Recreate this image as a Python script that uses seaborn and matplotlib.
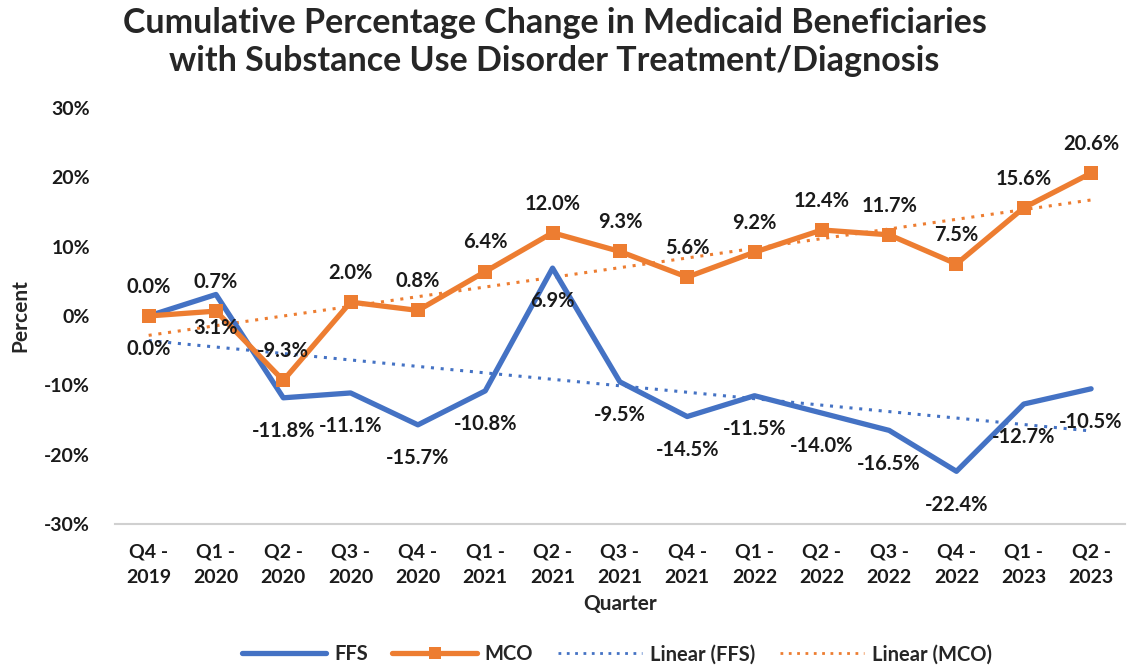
import numpy as np
import pandas as pd
import seaborn as sns
import matplotlib.pyplot as plt

# Chart data
quarters = ["Q4 -\n2019", "Q1 -\n2020", "Q2 -\n2020", "Q3 -\n2020", "Q4 -\n2020",
            "Q1 -\n2021", "Q2 -\n2021", "Q3 -\n2021", "Q4 -\n2021", "Q1 -\n2022",
            "Q2 -\n2022", "Q3 -\n2022", "Q4 -\n2022", "Q1 -\n2023", "Q2 -\n2023"]
ffs = [0.0, 3.1, -11.8, -11.1, -15.7, -10.8, 6.9, -9.5, -14.5, -11.5, -14.0, -16.5, -22.4, -12.7, -10.5]
mco = [0.0, 0.7, -9.3, 2.0, 0.8, 6.4, 12.0, 9.3, 5.6, 9.2, 12.4, 11.7, 7.5, 15.6, 20.6]

blue = "#4472C4"
orange = "#ED7D31"

sns.set_style("white")
plt.rcParams["font.family"] = ["Lato", "DejaVu Sans"]
plt.rcParams["font.weight"] = "bold"

df = pd.DataFrame({"idx": np.arange(len(quarters)), "FFS": ffs, "MCO": mco})

fig = plt.figure(figsize=(11.32, 6.69), dpi=100)
ax = fig.add_axes([0.1016, 0.2167, 0.892, 0.622])

# trend lines (linear fit, like Excel)
sns.regplot(data=df, x="idx", y="FFS", scatter=False, ci=None, ax=ax,
            line_kws=dict(color=blue, ls=(0, (1, 2.2)), lw=2.2))
sns.regplot(data=df, x="idx", y="MCO", scatter=False, ci=None, ax=ax,
            line_kws=dict(color=orange, ls=(0, (1, 2.2)), lw=2.2))

sns.lineplot(data=df, x="idx", y="FFS", ax=ax, color=blue, lw=3.8)
sns.lineplot(data=df, x="idx", y="MCO", ax=ax, color=orange, lw=3.8,
             marker="s", markersize=10, markeredgewidth=0)

for i, v in enumerate(ffs):
    ax.annotate(f"{v:.1f}%", (i, v), xytext=(0, -24), textcoords="offset points",
                ha="center", va="center", fontsize=14.5, fontweight="bold", color="#1a1a1a")
for i, v in enumerate(mco):
    ax.annotate(f"{v:.1f}%", (i, v), xytext=(0, 21), textcoords="offset points",
                ha="center", va="center", fontsize=14.5, fontweight="bold", color="#1a1a1a")

ax.set_xlim(-0.5, len(quarters) - 0.5)
ax.set_ylim(-30, 30)
ax.set_yticks(range(-30, 31, 10))
ax.set_yticklabels([f"{t}%" for t in range(-30, 31, 10)])
ax.set_xticks(range(len(quarters)))
ax.set_xticklabels(quarters, linespacing=1.6)
ax.tick_params(axis="both", labelsize=14, length=0, colors="#1a1a1a")
ax.tick_params(axis="x", pad=14)
ax.tick_params(axis="y", pad=18)
for lab in ax.get_xticklabels() + ax.get_yticklabels():
    lab.set_fontweight("bold")

for side in ["top", "right", "left"]:
    ax.spines[side].set_visible(False)
ax.spines["bottom"].set_color("#d0d0d0")
ax.spines["bottom"].set_linewidth(1.5)

ax.set_xlabel("Quarter", fontsize=15, fontweight="bold", labelpad=6)
ax.set_ylabel("Percent", fontsize=15, fontweight="bold", labelpad=10)

fig.suptitle("Cumulative Percentage Change in Medicaid Beneficiaries\nwith Substance Use Disorder Treatment/Diagnosis",
             x=0.49, y=0.99, fontsize=24.5, fontweight="bold", linespacing=1.25)

handles = [
    plt.Line2D([], [], color=blue, lw=3.8),
    plt.Line2D([], [], color=orange, lw=3.8, marker="s", markersize=9, markeredgewidth=0),
    plt.Line2D([], [], color=blue, lw=2, ls=(0, (1, 2))),
    plt.Line2D([], [], color=orange, lw=2, ls=(0, (1, 2))),
]
fig.legend(handles, ["FFS", "MCO", "Linear (FFS)", "Linear (MCO)"], loc="lower center",
           bbox_to_anchor=(0.545, -0.02), ncol=4, frameon=False,
           handlelength=4.2, columnspacing=1.2, handletextpad=0.4,
           prop=dict(weight="bold", size=14.5))

fig.savefig("out.png", dpi=100)
